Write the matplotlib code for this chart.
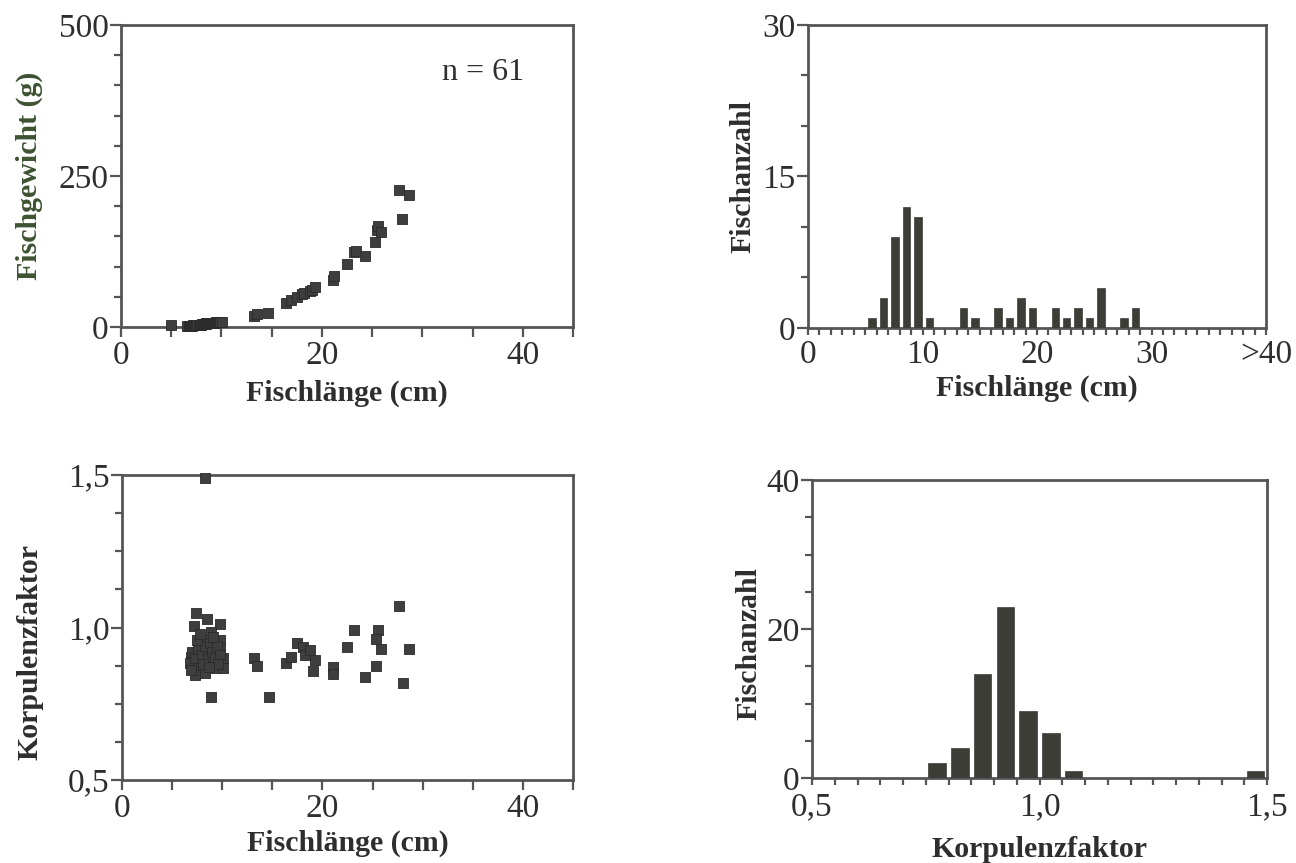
import matplotlib
matplotlib.use("Agg")
import matplotlib.pyplot as plt
from matplotlib.ticker import MultipleLocator, FixedLocator, FixedFormatter

plt.rcParams['font.family'] = ['Liberation Serif', 'DejaVu Serif']

# ---------------- data ----------------
fish_length_cm = [5.0,
                  6.6, 6.8, 6.9,
                  7.0, 7.1, 7.2, 7.3, 7.4, 7.5, 7.6, 7.8, 7.9,
                  8.0, 8.1, 8.2, 8.3, 8.4, 8.5, 8.5, 8.6, 8.7, 8.8, 8.9, 8.9,
                  9.0, 9.1, 9.2, 9.3, 9.4, 9.5, 9.6, 9.7, 9.7, 9.8, 9.9,
                  10.1,
                  13.2, 13.5, 14.6,
                  16.4, 16.9, 17.5,
                  18.0, 18.2, 18.8, 19.0, 19.3,
                  21.1, 21.2, 22.5,
                  23.2, 23.4, 24.3,
                  25.3, 25.5, 25.6, 25.9,
                  27.7, 28.0, 28.7]
fish_weight_g = [3,
                 1, 2, 2,
                 2, 2, 3, 3, 3, 3, 4, 4, 4,
                 4, 5, 5, 5, 5, 5, 6, 6, 6, 6, 6, 7,
                 6, 7, 7, 7, 7, 8, 8, 8, 8, 9, 9,
                 9,
                 18, 22, 24,
                 39, 44, 50,
                 54, 56, 60, 62, 66,
                 78, 84, 105,
                 124, 126, 117,
                 141, 160, 168, 157,
                 227, 179, 219]

k_length_cm = [7.41, 8.50, 7.18, 9.73, 8.90, 9.73, 8.24, 8.90, 9.73, 6.91,
               7.90, 10.07, 6.74, 7.57, 9.24, 10.07, 7.24, 8.24, 8.90, 13.22,
               13.49, 14.62, 16.38, 16.88, 17.48, 18.04, 18.21, 18.80, 19.27, 19.04,
               21.10, 21.10, 22.46, 23.19, 24.25, 25.35, 25.58, 25.35, 25.85, 27.67,
               28.67, 28.00, 8.30,
               7.0, 7.3, 7.6, 8.0, 8.3, 8.6, 8.8, 9.0, 9.3, 9.5, 9.8,
               7.5, 8.1, 9.1, 7.8, 9.6, 8.7, 6.9]
k_factor = [1.047, 1.027, 1.005, 1.010, 0.986, 0.959, 0.959, 0.932, 0.932, 0.904,
            0.899, 0.899, 0.883, 0.872, 0.866, 0.866, 0.844, 0.850, 0.773, 0.899,
            0.874, 0.773, 0.883, 0.904, 0.948, 0.935, 0.910, 0.925, 0.895, 0.858,
            0.872, 0.846, 0.935, 0.992, 0.837, 0.874, 0.992, 0.962, 0.930, 1.070,
            0.930, 0.819, 1.490,
            0.92, 0.90, 0.93, 0.91, 0.94, 0.90, 0.95, 0.92, 0.90, 0.94, 0.91,
            0.96, 0.88, 0.97, 0.98, 0.88, 0.87, 0.86]

len_bins_cm = [5, 6, 7, 8, 9, 10, 13, 14, 16, 17, 18, 19, 21, 22, 23, 24, 25, 27, 28]
len_counts = [1, 3, 9, 12, 11, 1, 2, 1, 2, 1, 3, 2, 2, 1, 2, 1, 4, 1, 2]
len_tick_labels = ['0', '10', '20', '30', '>40']

k_bins = [0.75, 0.80, 0.85, 0.90, 0.95, 1.00, 1.05, 1.45]
k_counts = [2, 4, 14, 23, 9, 6, 1, 1]

# ---------------- style ----------------
W, H = 1296, 863
SPINE = '#555555'
MARK = '#3e3e3e'
BAR = '#3b3d36'
TXT = '#2e2e2e'
TICKFS = 24
LABFS = 21.5
MS = 44

fig = plt.figure(figsize=(W / 100, H / 100), dpi=100)


def ax_at(l, t, r, b):
    return fig.add_axes([l / W, 1 - b / H, (r - l) / W, (b - t) / H])


def style(ax):
    for s in ax.spines.values():
        s.set_color(SPINE)
        s.set_linewidth(2.0)
    ax.tick_params(which='both', direction='out', color=SPINE, width=1.6,
                   labelsize=TICKFS, labelcolor=TXT)
    ax.tick_params(which='major', length=8, pad=3)
    ax.tick_params(which='minor', length=5)
    ax.tick_params(axis='y', which='major', pad=1)
    ax.tick_params(axis='x', which='both', top=False)
    ax.tick_params(axis='y', which='both', right=False)


# Top-left: weight vs length
ax1 = ax_at(121, 25, 573, 327)
ax1.scatter(fish_length_cm, fish_weight_g, marker='s', s=MS, color=MARK,
            edgecolor='#2a2a2a', linewidths=0.6, zorder=3, clip_on=False)
ax1.set_xlim(0, 45)
ax1.set_ylim(0, 500)
ax1.xaxis.set_major_locator(FixedLocator([0, 20, 40]))
ax1.xaxis.set_minor_locator(MultipleLocator(5))
ax1.yaxis.set_major_locator(FixedLocator([0, 250, 500]))
ax1.yaxis.set_minor_locator(MultipleLocator(50))
style(ax1)
ax1.tick_params(axis='x', which='both', length=7)
ax1.set_xlabel('Fischlänge (cm)', fontsize=LABFS, fontweight='bold', color=TXT, labelpad=6)
ax1.set_ylabel('Fischgewicht (g)', fontsize=LABFS, fontweight='bold', color='#3d5230')
ax1.yaxis.set_label_coords(-0.172, 0.5)
ax1.text(36, 422, 'n = 61', fontsize=TICKFS - 1, color=TXT, ha='center', va='center')

# Top-right: length histogram
ax2 = ax_at(808, 25, 1266, 328)
ax2.bar([b + 0.6 for b in len_bins_cm], len_counts, width=0.65, color=BAR,
        edgecolor=BAR, linewidth=0.5, zorder=3)
ax2.set_xlim(0, 40)
ax2.set_ylim(0, 30)
ax2.xaxis.set_major_locator(FixedLocator([0, 10, 20, 30, 40]))
ax2.xaxis.set_major_formatter(FixedFormatter(len_tick_labels))
ax2.xaxis.set_minor_locator(MultipleLocator(1))
ax2.yaxis.set_major_locator(FixedLocator([0, 15, 30]))
ax2.yaxis.set_minor_locator(MultipleLocator(5))
style(ax2)
ax2.tick_params(axis='x', which='both', length=5)
ax2.set_xlabel('Fischlänge (cm)', fontsize=LABFS, fontweight='bold', color=TXT, labelpad=4)
ax2.set_ylabel('Fischanzahl', fontsize=LABFS, fontweight='bold', color=TXT)
ax2.yaxis.set_label_coords(-0.112, 0.5)

# Bottom-left: condition factor vs length
ax3 = ax_at(122, 475, 573, 780)
ax3.scatter(k_length_cm, k_factor, marker='s', s=MS, color=MARK,
            edgecolor='#2a2a2a', linewidths=0.6, zorder=3, clip_on=False)
ax3.set_xlim(0, 45)
ax3.set_ylim(0.5, 1.5)
ax3.xaxis.set_major_locator(FixedLocator([0, 20, 40]))
ax3.xaxis.set_minor_locator(MultipleLocator(5))
ax3.yaxis.set_major_locator(FixedLocator([0.5, 1.0, 1.5]))
ax3.yaxis.set_major_formatter(FixedFormatter(['0,5', '1,0', '1,5']))
ax3.yaxis.set_minor_locator(MultipleLocator(0.125))
style(ax3)
ax3.tick_params(axis='x', which='both', length=7)
ax3.set_xlabel('Fischlänge (cm)', fontsize=LABFS, fontweight='bold', color=TXT, labelpad=4)
ax3.set_ylabel('Korpulenzfaktor', fontsize=LABFS, fontweight='bold', color=TXT)
ax3.yaxis.set_label_coords(-0.175, 0.42)

# Bottom-right: condition factor histogram
ax4 = ax_at(812, 480, 1267, 778)
ax4.bar([b + 0.025 for b in k_bins], k_counts, width=0.039, color=BAR,
        edgecolor=BAR, linewidth=0.5, zorder=3)
ax4.set_xlim(0.5, 1.5)
ax4.set_ylim(0, 40)
ax4.xaxis.set_major_locator(FixedLocator([0.5, 1.0, 1.5]))
ax4.xaxis.set_major_formatter(FixedFormatter(['0,5', '1,0', '1,5']))
ax4.xaxis.set_minor_locator(MultipleLocator(0.05))
ax4.yaxis.set_major_locator(FixedLocator([0, 20, 40]))
ax4.yaxis.set_minor_locator(MultipleLocator(5))
style(ax4)
ax4.tick_params(axis='x', which='both', length=5)
ax4.tick_params(axis='x', which='major', pad=5)
ax4.set_xlabel('Korpulenzfaktor', fontsize=LABFS, fontweight='bold', color=TXT, labelpad=10)
ax4.set_ylabel('Fischanzahl', fontsize=LABFS, fontweight='bold', color=TXT)
ax4.yaxis.set_label_coords(-0.11, 0.45)

fig.savefig('out.png', dpi=100)
